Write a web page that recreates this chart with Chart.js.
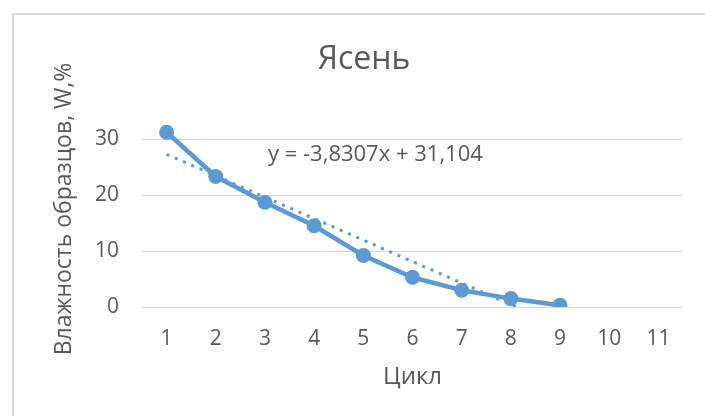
<!DOCTYPE html>
<html>
<head>
<meta charset="utf-8">
<script src="https://cdn.jsdelivr.net/npm/chart.js@4.4.1/dist/chart.umd.min.js"></script>
<style>
  html, body { margin: 0; padding: 0; background: #fff; }
  #wrap { position: relative; width: 705px; height: 416px; overflow: hidden; }
  #frame { position: absolute; left: 12px; top: 13px; width: 800px; height: 500px;
           border-left: 2px solid #d9d9d9; border-top: 2px solid #d9d9d9; }
  #c { position: absolute; left: 0; top: 0; }
</style>
</head>
<body>
<div id="wrap">
  <div id="frame"></div>
  <canvas id="c" width="705" height="416"></canvas>
</div>
<script>
// ---- data ----
const categories = ['1','2','3','4','5','6','7','8','9','10','11'];
const moisture = [31.2, 23.3, 18.7, 14.5, 9.2, 5.3, 3.0, 1.5, 0.3];
const yTicks = [0, 10, 20, 30];
const chartTitle = 'Ясень';
const xTitle = 'Цикл';
const yTitle = 'Влажность образцов, W,%';
const trendSlope = -3.8307;
const trendIntercept = 31.104;
const trendLabel = 'y = -3,8307x + 31,104';

// linear trendline defined by the equation printed on the chart
const trendValues = moisture.map((_, i) => trendSlope * (i + 1) + trendIntercept);

const BLUE = '#5b9bd5';
const TEXT = '#595959';
const FONT = "'Open Sans', sans-serif";

const textPlugin = {
  id: 'texts',
  afterDatasetsDraw(chart) {
    const { ctx, chartArea } = chart;
    ctx.save();
    ctx.fillStyle = TEXT;
    ctx.textBaseline = 'middle';
    // chart title
    ctx.font = '32px ' + FONT;
    ctx.textAlign = 'center';
    ctx.fillText(chartTitle, 364, 60);
    // trendline equation
    ctx.font = '22px ' + FONT;
    ctx.textAlign = 'left';
    ctx.fillText(trendLabel, chartArea.left + 126, chartArea.top + 44);
    ctx.restore();
  }
};

new Chart(document.getElementById('c'), {
  type: 'line',
  data: {
    labels: categories,
    datasets: [
      {
        label: 'Ясень',
        data: moisture,
        borderColor: BLUE,
        backgroundColor: BLUE,
        borderWidth: 4.5,
        pointRadius: 7.5,
        pointHoverRadius: 7.5,
        pointBorderWidth: 0,
        pointBackgroundColor: BLUE,
        tension: 0,
        order: 2
      },
      {
        label: 'trend',
        data: trendValues,
        borderColor: BLUE,
        borderWidth: 3,
        borderDash: [3, 6],
        pointRadius: 0,
        fill: false,
        tension: 0,
        order: 1
      }
    ]
  },
  options: {
    responsive: false,
    animation: false,
    devicePixelRatio: 1,
    layout: { padding: { left: 0, right: 22, top: 111, bottom: 0 } },
    plugins: {
      legend: { display: false },
      tooltip: { enabled: false },
      title: { display: false }
    },
    scales: {
      x: {
        type: 'category',
        offset: true,
        grid: { display: false, drawTicks: false },
        border: { display: false },
        ticks: { color: TEXT, font: { family: FONT, size: 21 }, padding: 19, maxRotation: 0, autoSkip: false },
        title: { display: true, text: xTitle, color: TEXT, font: { family: FONT, size: 24 }, padding: { top: 0, bottom: 24 } },
        afterFit(s) { s.height = 109; }
      },
      y: {
        min: 0,
        max: 35,
        ticks: { stepSize: 10, color: TEXT, font: { family: FONT, size: 21 }, padding: 23 },
        afterBuildTicks(s) { s.ticks = yTicks.map(v => ({ value: v })); },
        grid: { color: '#d9d9d9', lineWidth: 1, drawTicks: false },
        border: { display: false },
        title: { display: true, text: yTitle, color: TEXT, font: { family: FONT, size: 23 }, padding: { top: 51, bottom: 0 } },
        afterFit(s) { s.width = 142; }
      }
    }
  },
  plugins: [textPlugin]
});
</script>
</body>
</html>
